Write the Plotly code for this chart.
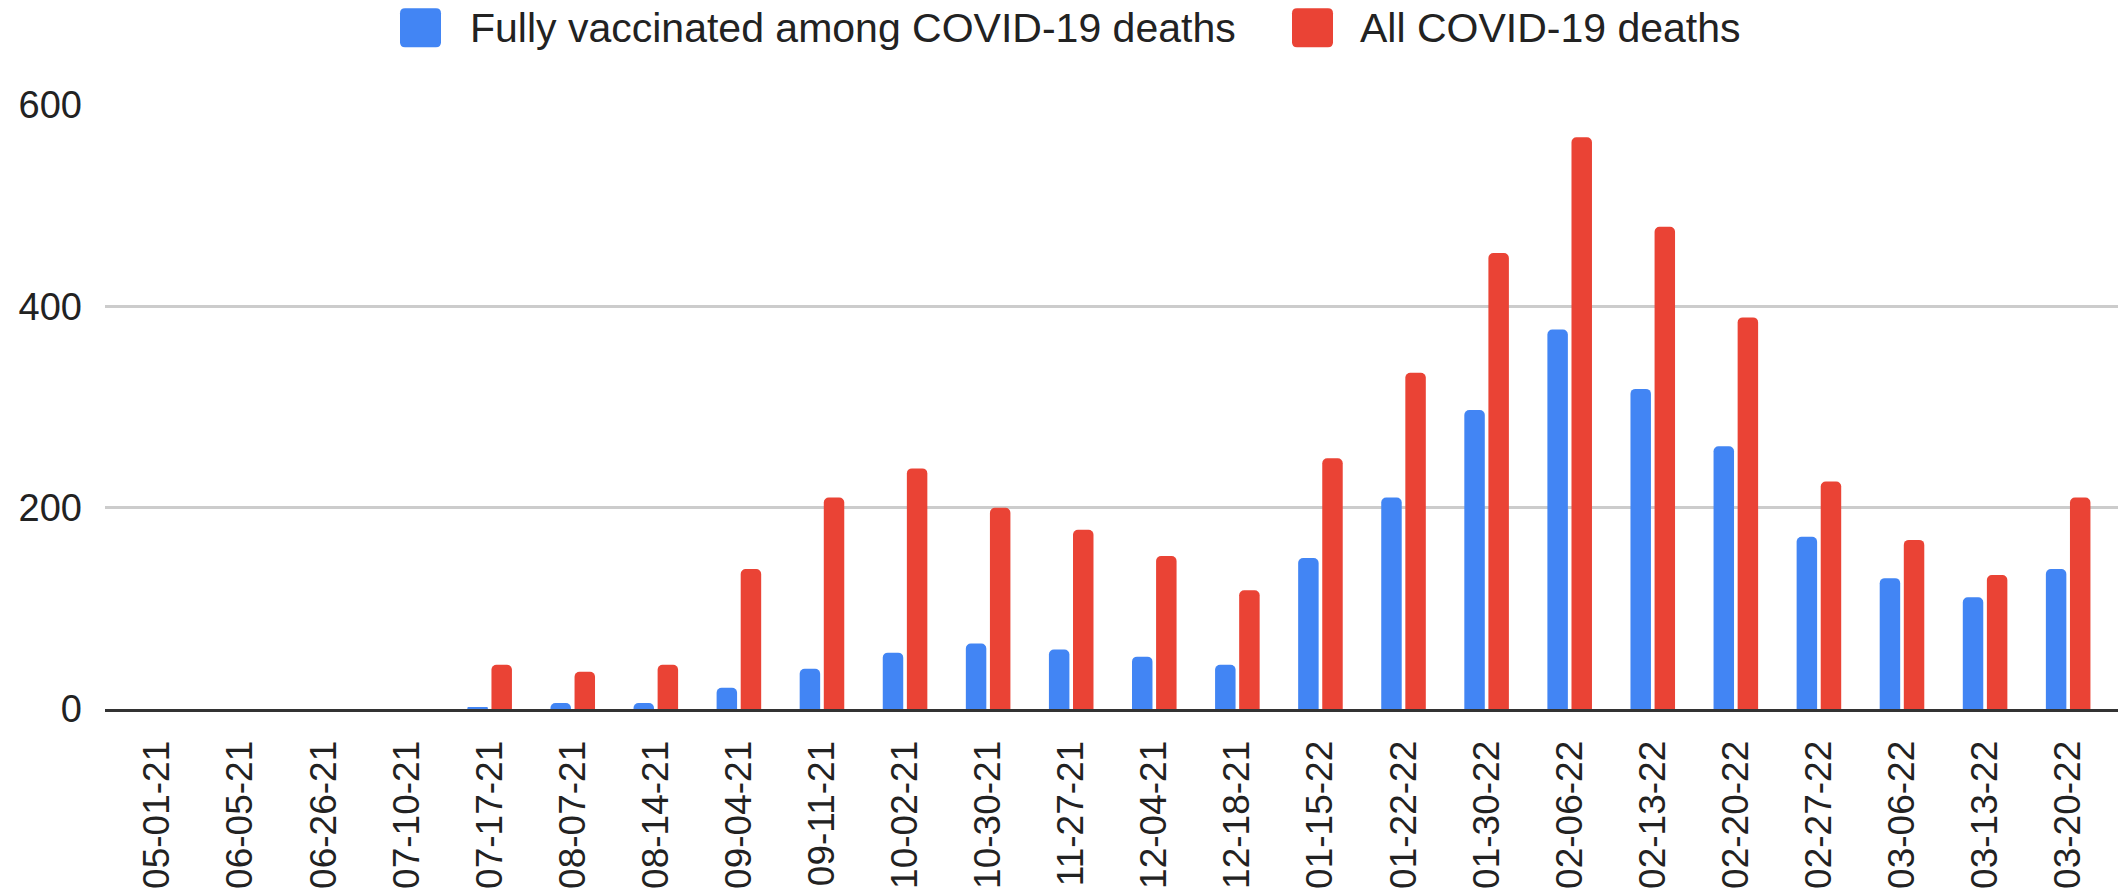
import plotly.graph_objects as go

dates = ["05-01-21", "06-05-21", "06-26-21", "07-10-21", "07-17-21", "08-07-21",
         "08-14-21", "09-04-21", "09-11-21", "10-02-21", "10-30-21", "11-27-21",
         "12-04-21", "12-18-21", "01-15-22", "01-22-22", "01-30-22", "02-06-22",
         "02-13-22", "02-20-22", "02-27-22", "03-06-22", "03-13-22", "03-20-22"]
vaccinated = [0, 0, 0, 0, 1, 6, 6, 21, 40, 56, 65, 59,
              52, 44, 150, 210, 297, 377, 318, 261, 171, 130, 111, 139]
all_deaths = [0, 0, 0, 0, 44, 37, 44, 139, 210, 239, 200, 178,
              152, 118, 249, 334, 453, 568, 479, 389, 226, 168, 133, 210]
series_names = ["Fully vaccinated among COVID-19 deaths", "All COVID-19 deaths"]
colors = ["#4285F4", "#EA4335"]
y_ticks = [0, 200, 400, 600]

W, H = 2118, 889
L, R, T, B = 105, 0, 105, 178
PW, PH = W - L - R, H - T - B
FONT = "Liberation Sans, Arial, sans-serif"

fig = go.Figure()
for name, vals, col in zip(series_names, [vaccinated, all_deaths], colors):
    fig.add_bar(x=dates, y=vals, name=name, marker_color=col,
                marker_line_width=0, showlegend=False)


def px2paper(x, y):
    return (x - L) / PW, (H - B - y) / PH


def rounded_rect(x0, y0, x1, y1, r):
    ax0, ay0 = px2paper(x0, y0)
    ax1, ay1 = px2paper(x1, y1)
    rx, ry = r / PW, r / PH
    return (f"M{ax0+rx},{ay0} L{ax1-rx},{ay0} Q{ax1},{ay0} {ax1},{ay0-ry} "
            f"L{ax1},{ay1+ry} Q{ax1},{ay1} {ax1-rx},{ay1} L{ax0+rx},{ay1} "
            f"Q{ax0},{ay1} {ax0},{ay1+ry} L{ax0},{ay0-ry} Q{ax0},{ay0} {ax0+rx},{ay0} Z")


legend_items = [(400, 441, 468), (1292, 1333, 1358)]
for (sx0, sx1, tx), name, col in zip(legend_items, series_names, colors):
    fig.add_shape(type="path", xref="paper", yref="paper",
                  path=rounded_rect(sx0, 8, sx1, 47, 5),
                  fillcolor=col, line_width=0, layer="above")
    axp, ayp = px2paper(tx, 28)
    fig.add_annotation(x=axp, y=ayp, xref="paper", yref="paper", text=name,
                       showarrow=False, xanchor="left", yanchor="middle",
                       font=dict(family=FONT, size=41, color="#222222"))

fig.update_layout(
    width=W, height=H,
    margin=dict(l=L, r=R, t=T, b=B, pad=0),
    paper_bgcolor="white", plot_bgcolor="white",
    barmode="group", bargap=0.42, bargroupgap=0.15, barcornerradius=5,
    font=dict(family=FONT, color="#222222"),
    showlegend=False,
)
fig.update_xaxes(type="category", range=[-0.63, 23.6], tickangle=-90,
                 tickfont=dict(size=37, color="#222222"), showgrid=False,
                 showline=True, linecolor="#333333", linewidth=3,
                 ticks="", ticklabelstandoff=14, fixedrange=True)
fig.update_yaxes(range=[0, 600], tickvals=y_ticks, showgrid=True,
                 gridcolor="#cccccc", gridwidth=3, zeroline=False,
                 tickfont=dict(size=38, color="#222222"),
                 ticklabelstandoff=22, showline=False, ticks="")

fig.write_html("out.html", config={"displayModeBar": False},
               post_script="document.body.style.margin='0';")
